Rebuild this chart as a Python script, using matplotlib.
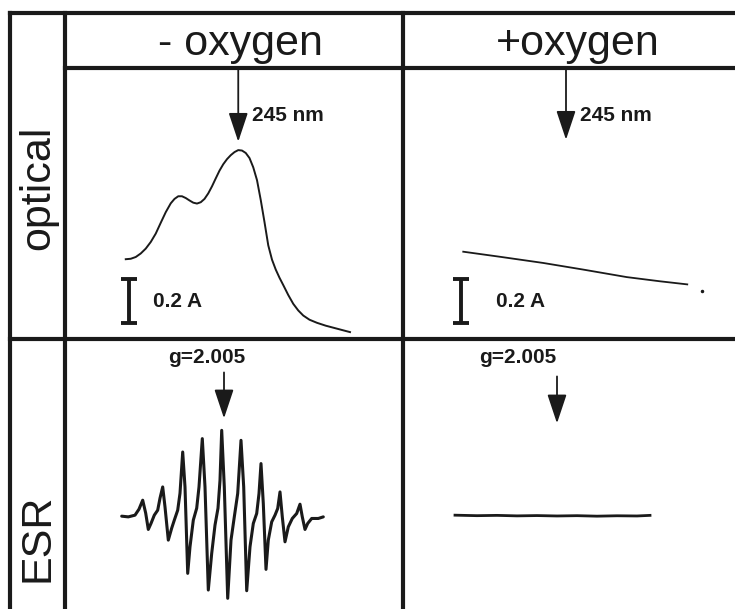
import matplotlib
matplotlib.use("Agg")
import matplotlib.pyplot as plt
from matplotlib.patches import FancyArrowPatch

plt.rcParams['font.family'] = ['Liberation Sans', 'DejaVu Sans']

# ---------------- data ----------------
column_titles = ["- oxygen", "+oxygen"]
row_titles = ["optical", "ESR"]

# optical spectrum, no oxygen (wavelength nm, absorbance A)
opt_minus_nm = [200.0, 202.0, 204.0, 206.0, 208.0, 210.0, 212.0, 214.0, 216.0, 218.0,
                219.5, 221.0, 222.5, 224.0, 225.5, 227.0, 228.5, 230.0, 231.5, 233.0,
                234.5, 236.0, 237.5, 239.0, 240.5, 242.0, 243.5, 245.0, 246.5, 248.0,
                249.5, 251.0, 252.5, 254.0, 255.5, 257.0, 258.5, 260.0, 261.5, 263.0,
                265.0, 267.0, 269.0, 271.0, 273.5, 276.5, 280.0, 284.0, 287.0, 289.7]
opt_minus_A = [0.332, 0.334, 0.342, 0.358, 0.380, 0.410, 0.448, 0.497, 0.545, 0.585,
               0.605, 0.617, 0.617, 0.609, 0.598, 0.588, 0.584, 0.590, 0.605, 0.630,
               0.662, 0.698, 0.733, 0.762, 0.785, 0.803, 0.817, 0.826, 0.824, 0.813,
               0.790, 0.748, 0.690, 0.600, 0.500, 0.395, 0.330, 0.285, 0.248, 0.215,
               0.170, 0.130, 0.100, 0.077, 0.058, 0.044, 0.031, 0.019, 0.010, 0.002]

# optical spectrum, with oxygen
opt_plus_nm = [203.9, 218.6, 235.9, 251.9, 269.3, 282.6, 293.5]
opt_plus_A = [0.366, 0.343, 0.315, 0.285, 0.251, 0.232, 0.218]
opt_plus_dot = (299.4, 0.19)

peak_nm = 245
peak_label = "245 nm"
scale_A = 0.2
scale_label = "0.2 A"

# ESR spectrum, no oxygen (field offset G, derivative intensity)
esr_minus_G = [-100.3, -93.7, -87, -83, -79.3, -76.3, -73.7, -71, -67.7, -64.3,
               -62, -59.3, -57, -53.7, -50.3, -47.7, -44.3, -42, -39.3, -37,
               -34.3, -32, -28.7, -25.3, -23, -19.7, -17, -13.7, -10.3, -7,
               -4, -2, -0.3, 2.3, 5.7, 9, 12.3, 15.7, 19, 21.7,
               24.7, 28, 31.3, 34.7, 37, 39, 41.3, 44, 46.3, 49.7,
               53, 55.7, 58, 60.3, 63, 66.3, 70.3, 74.7, 78, 80.3,
               83, 85.7, 89.7, 96.3, 101.3]
esr_minus_I = [0, -0.7, 1, 7, 16, 3, -13.3, -7.3, 1, 6,
               18, 29.3, 9.3, -24, -12, -4, 6, 23, 64.3, 29.3,
               -57.3, -30.7, -4, 8, 29.3, 77.7, 29.3, -74, -37.3, -9,
               8, 36, 86, 29.3, -82.3, -24, -0.7, 22.7, 76, 29.3,
               -74.7, -30.7, -7.3, 2.7, 22.7, 52.7, 12.7, -53.3, -24, -5.7,
               1, 7.7, 24.3, -0.7, -25.7, -10.7, -2.3, 2.7, 12, -0.7,
               -13.3, -7.3, -2.3, -2.3, -0.7]

# ESR spectrum, with oxygen (flat)
esr_plus_G = [-102, -80, -60, -40, -20, 0, 20, 40, 60, 80, 93]
esr_plus_I = [1.0, 0.5, 0.8, 0.3, 0.6, 0.2, 0.5, 0.0, 0.4, 0.2, 0.8]

g_label = "g=2.005"

# ---------------- figure ----------------
W, H = 735, 609
fig = plt.figure(figsize=(W / 100, H / 100), dpi=100)

bg = fig.add_axes([0, 0, 1, 1])
bg.set_xlim(0, W)
bg.set_ylim(H, 0)
bg.axis('off')

ink = '#1a1a1a'
grid_lw = 3.0
x_out, x_in, x_div = 10.5, 65, 403
y_top, y_head, y_row = 12.5, 67.5, 338.5
bg.plot([x_out, W], [y_top, y_top], color=ink, lw=grid_lw, solid_capstyle='projecting')
bg.plot([x_in, W], [y_head, y_head], color=ink, lw=grid_lw)
bg.plot([x_out, W], [y_row, y_row], color=ink, lw=grid_lw)
for xv in (x_out, x_in, x_div):
    bg.plot([xv, xv], [y_top, H], color=ink, lw=grid_lw, solid_capstyle='projecting')

big = 31
bg.text(240, 55, column_titles[0], ha='center', va='baseline', fontsize=big, color=ink)
bg.text(578, 55, column_titles[1], ha='center', va='baseline', fontsize=big, color=ink)
bg.text(38, 188, row_titles[0], ha='center', va='center', rotation=90, fontsize=big, color=ink)
bg.text(38, 538, row_titles[1], ha='center', va='center', rotation=90, fontsize=big, color=ink)


def panel(px0, px1, py0, py1):
    return fig.add_axes([px0 / W, 1 - py1 / H, (px1 - px0) / W, (py1 - py0) / H])


def arrow(ax, x, y0, y1):
    a = FancyArrowPatch((x, y0), (x, y1), arrowstyle='-|>,head_length=1.8,head_width=0.6',
                        mutation_scale=10, lw=1.3, color=ink, shrinkA=0, shrinkB=0)
    ax.add_patch(a)


small = dict(fontsize=15, fontweight='bold', color=ink)

# optical, - oxygen
ax1 = panel(x_in, x_div, y_head, y_row)
ax1.set_xlim(175.7, 310.9)
ax1.set_ylim(-0.027, 1.2)
ax1.axis('off')
ax1.plot(opt_minus_nm, opt_minus_A, color=ink, lw=1.4, solid_joinstyle='round')
arrow(ax1, peak_nm, 1.2, 0.864)
ax1.text(250.6, 0.982, peak_label, ha='left', va='center', **small)
ax1.errorbar([201.3], [0.041 + scale_A / 2], yerr=[scale_A / 2], color=ink,
             elinewidth=2.8, capsize=6, capthick=2.8, fmt='none')
ax1.text(211.0, 0.141, scale_label, ha='left', va='center', **small)

# optical, + oxygen
ax2 = panel(x_div, W, y_head, y_row)
ax2.set_xlim(179.8, 312.6)
ax2.set_ylim(-0.027, 1.2)
ax2.axis('off')
ax2.plot(opt_plus_nm, opt_plus_A, color=ink, lw=1.3)
ax2.plot([opt_plus_dot[0]], [opt_plus_dot[1]], 'o', ms=1.5, color=ink)
arrow(ax2, peak_nm, 1.2, 0.873)
ax2.text(250.6, 0.982, peak_label, ha='left', va='center', **small)
ax2.errorbar([203.0], [0.041 + scale_A / 2], yerr=[scale_A / 2], color=ink,
             elinewidth=2.8, capsize=6, capthick=2.8, fmt='none')
ax2.text(217.0, 0.141, scale_label, ha='left', va='center', **small)

# ESR, - oxygen
ax3 = panel(x_in, x_div, y_row, H)
ax3.set_xlim(-157, 181)
ax3.set_ylim(-93, 178)
ax3.axis('off')
ax3.plot(esr_minus_G, esr_minus_I, color=ink, lw=2.2, solid_joinstyle='round',
         solid_capstyle='round')
arrow(ax3, 2, 144, 98)
ax3.text(-15, 159, g_label, ha='center', va='center', **small)

# ESR, + oxygen
ax4 = panel(x_div, W, y_row, H)
ax4.set_xlim(-154, 178)
ax4.set_ylim(-93, 178)
ax4.axis('off')
ax4.plot(esr_plus_G, esr_plus_I, color=ink, lw=2.0)
arrow(ax4, 0, 140, 93)
ax4.text(-39, 159, g_label, ha='center', va='center', **small)

fig.savefig("out.png", dpi=100)
